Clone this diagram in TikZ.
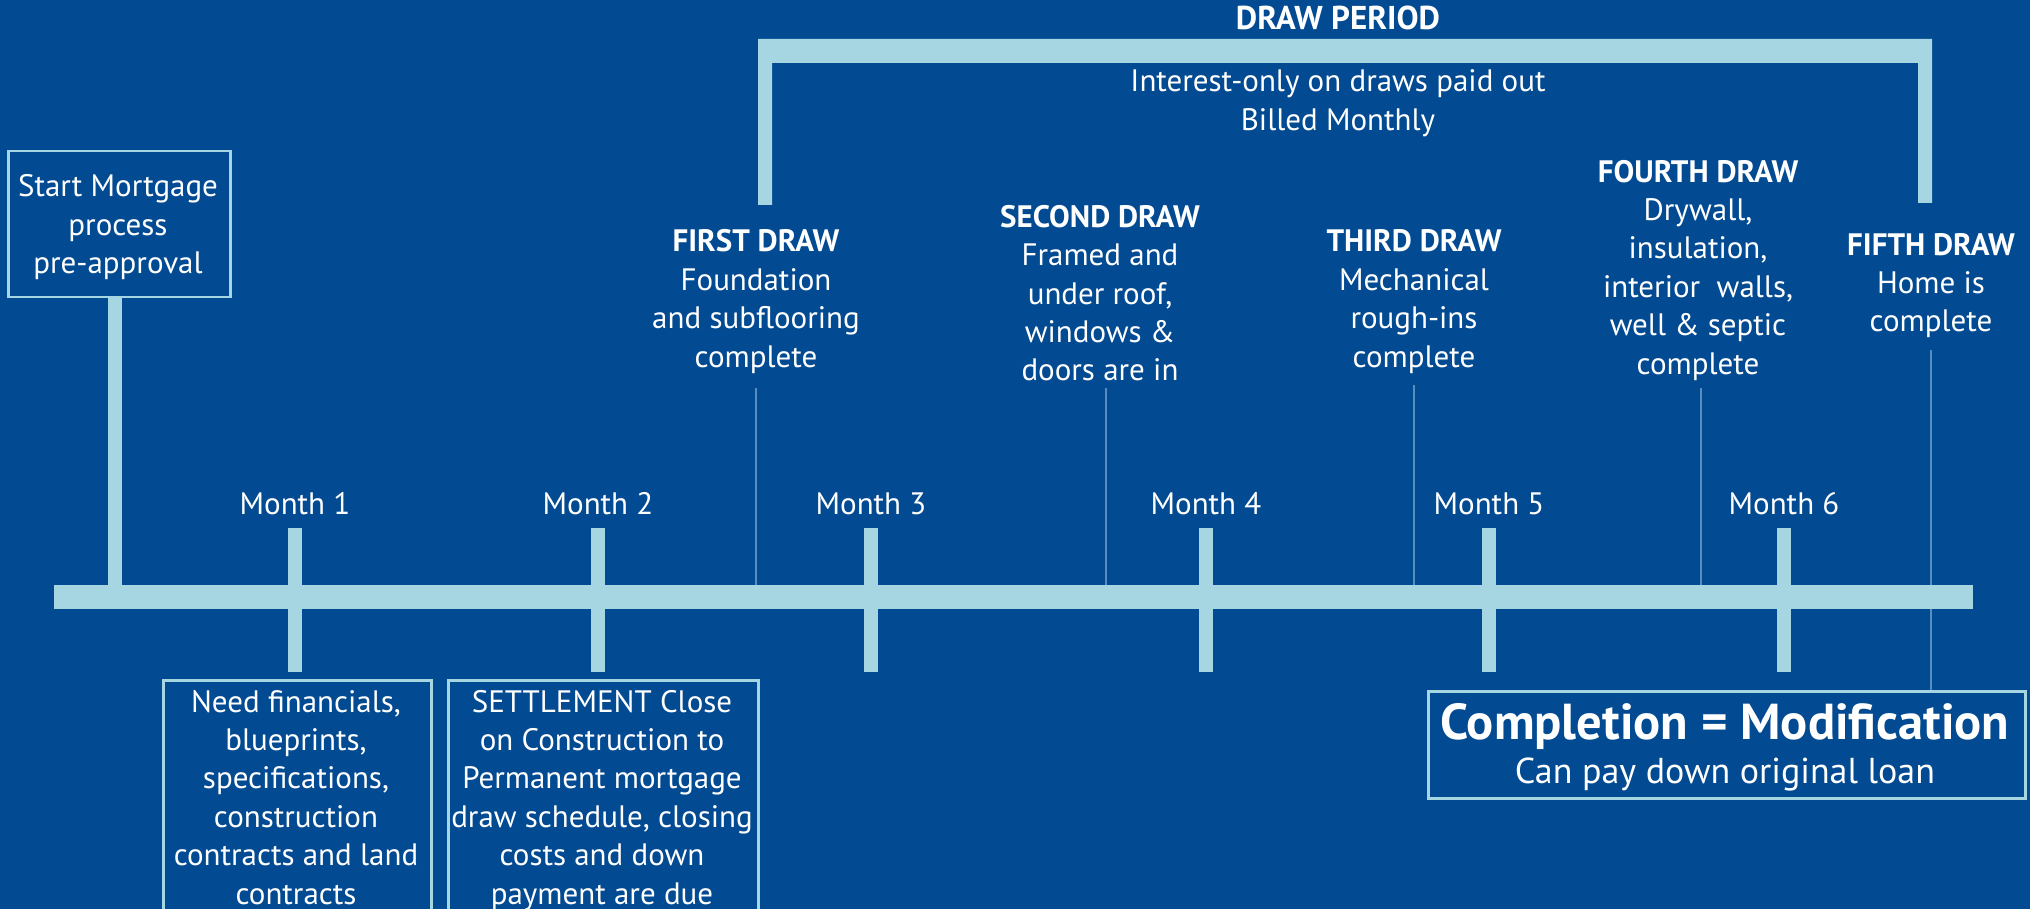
\documentclass[tikz,border=0pt]{standalone}
\usepackage{fontspec}
\setmainfont{PT Sans}
\definecolor{bg}{RGB}{2,74,145}
\definecolor{lb}{RGB}{166,214,225}
\definecolor{thinc}{RGB}{88,142,190}
\begin{document}
\begin{tikzpicture}[x=1pt,y=-1pt,
  txt/.style={text=white, align=center, inner sep=0pt, anchor=base, font=\fontsize{31}{38.4}\selectfont},
  framebox/.style={draw=lb, line width=2.5pt, inner sep=0pt, anchor=north west},
  thinline/.style={draw=thinc, line width=1.2pt},
  tick/.style={fill=lb},
]
\fill[bg] (0,0) rectangle (2030,909);
\useasboundingbox (0,0) rectangle (2030,909);
\clip (0,0) rectangle (2030,909);

% bracket of the draw period
\fill[lb] (758,39) -- (1932,39) -- (1932,203) -- (1918,203) -- (1918,63) -- (772,63) -- (772,205) -- (758,205) -- cycle;

% texts (y = baseline of the last line)
\node[txt, font=\fontsize{33}{38.4}\selectfont\bfseries] (dp) at (1338,30) {DRAW PERIOD};
\node[txt] (int) at (1338,130.4) {Interest-only on draws paid out\\Billed Monthly};

\node[txt] (d1) at (756,367) {\textbf{FIRST DRAW}\\Foundation\\and subflooring\\complete};
\node[txt] (d2) at (1100,381) {\textbf{SECOND DRAW}\\Framed and\\under roof,\\windows \&\\doors are in};
\node[txt] (d3) at (1414,367) {\textbf{THIRD DRAW}\\Mechanical\\rough-ins\\complete};
\node[txt] (d4) at (1698,374) {\textbf{FOURTH DRAW}\\Drywall,\\insulation,\\interior\ \ walls,\\well \& septic\\complete};
\node[txt] (d5) at (1931,332) {\textbf{FIFTH DRAW}\\Home is\\complete};

% thin lines from the draws to the time line
\coordinate (t1) at (756,388);  \coordinate (b1) at (756,585);
\coordinate (t2) at (1106,388); \coordinate (b2) at (1106,585);
\coordinate (t3) at (1414,385); \coordinate (b3) at (1414,585);
\coordinate (t4) at (1701,388); \coordinate (b4) at (1701,585);
\coordinate (t5) at (1931,350); \coordinate (b5) at (1931,690);
\foreach \i in {1,...,5} \draw[thinline] (t\i) -- (b\i);

% start box
\node[framebox, minimum width=222pt, minimum height=146pt] (startbox) at (7,150) {};
\node[txt] (st) at (118,273.8) {Start Mortgage\\process\\pre-approval};
\fill[lb] ([xshift=-11pt]startbox.south) rectangle ([xshift=3pt]startbox.south |- 0,586);

% main time line
\fill[lb] (54,585) rectangle (1973,609);
\foreach \x/\m in {295/1,598/2,871/3,1206/4,1489/5,1784/6}{
  \fill[tick] (\x-7,528) rectangle (\x+7,672);
  \node[txt] (m\m) at (\x,514) {Month \m};
}

% bottom boxes
\node[framebox, minimum width=268pt, minimum height=260pt] (box1) at (162,679) {};
\node[framebox, minimum width=310pt, minimum height=260pt] (box2) at (447,679) {};
\node[txt] (n1) at (296,904) {Need financials,\\blueprints,\\specifications,\\construction\\contracts and land\\contracts};
\node[txt] (n2) at (602,904) {SETTLEMENT Close\\on Construction to\\Permanent mortgage\\draw schedule, closing\\costs and down\\payment are due};

% completion box
\node[framebox, minimum width=597pt, minimum height=107pt] (comp) at (1427,690) {};
\node[txt, font=\fontsize{50.5}{54}\selectfont\bfseries] (c1) at (1725,739) {Completion = Modification};
\node[txt, font=\fontsize{36}{40}\selectfont] (c2) at (1725,783) {Can pay down original loan};
\end{tikzpicture}
\end{document}
